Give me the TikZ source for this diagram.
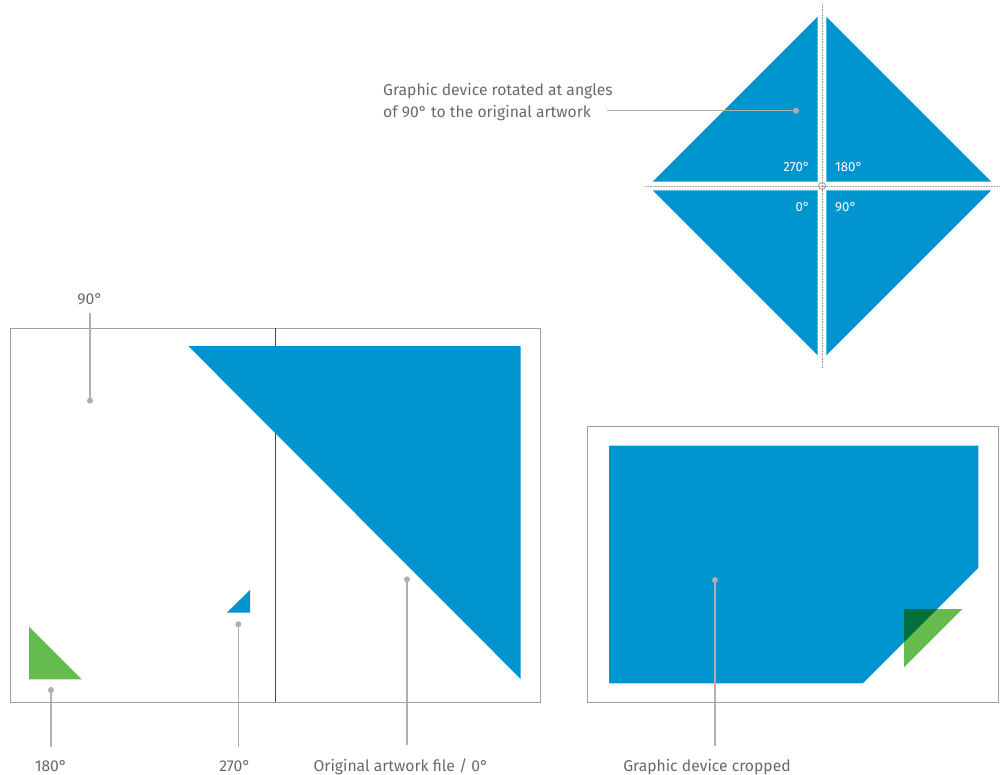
\documentclass[tikz,border=0pt]{standalone}
\usepackage{fontspec}
\setmainfont{Fira Sans}
\usepackage{xcolor}
\usetikzlibrary{positioning, calc}
\definecolor{devblue}{RGB}{0,149,207}
\definecolor{devgreen}{RGB}{102,187,80}
\definecolor{devdkgreen}{RGB}{0,112,60}
\definecolor{leadgray}{RGB}{175,175,175}
\definecolor{txtgray}{RGB}{105,105,108}

\begin{document}
\begin{tikzpicture}[x=1pt, y=-1pt,
  leader/.style={draw=leadgray, line width=1.3pt},
  dotmark/.style={fill=leadgray},
  lbl/.style={font=\fontsize{15.7}{22}\selectfont, text=txtgray, inner sep=0pt},
  anglbl/.style={font=\fontsize{13.2}{15}\selectfont, text=white, inner sep=0pt},
  frame/.style={draw=gray!75, line width=0.9pt},
  guide/.style={draw=gray!80, densely dotted, line width=0.6pt}]
  \useasboundingbox (0,0) rectangle (1003,775);
  % Rotated device: four triangles round one centre
  \coordinate (c) at (822,186);
  \begin{scope}[shift={(c)}]
    \foreach \r in {0,90,180,270} {
      \fill[devblue, rotate=\r] (-4.3,4.3) -- (-4.3,169.3) -- (-169.3,4.3) -- cycle;
    }
  \end{scope}
  \draw[guide] (822,4) -- (822,368);
  \draw[guide] (645,186) -- (1000,186);
  \draw[gray!90, line width=0.7pt] (c) circle (3.5pt);
  \node[anglbl, anchor=base east] (a270) at (810,172) {270°};
  \node[anglbl, anchor=base west] (a180) at (835,172) {180°};
  \node[anglbl, anchor=base east] (a0)   at (810,212) {0°};
  \node[anglbl, anchor=base west] (a90)  at (835,212) {90°};
  % Caption of the rotated device
  \node[lbl, anchor=base west] (lrot1) at (383,96) {Graphic device rotated at angles};
  \node[lbl, anchor=base west] (lrot2) at (383,118) {of 90° to the original artwork};
  \coordinate (drot) at (796,110.7);
  \draw[leader, shorten <=16pt] (lrot2.east |- drot) -- (drot);
  \fill[dotmark] (drot) circle (3pt);
  % Original artwork file (spread)
  \draw[frame] (10.7,328.3) rectangle (540,702);
  \draw[gray!55!black, line width=0.9pt] (275.3,328.3) -- (275.3,702);
  \fill[devblue] (188.3,346) -- (520.7,346) -- (520.7,679) -- cycle;
  \fill[devblue] (226.7,612.7) -- (250,612.7) -- (250,590) -- cycle;
  \fill[devgreen] (29,626.7) -- (29,679.3) -- (81.7,679.3) -- cycle;
  % Leaders of the spread
  \node[lbl, anchor=base] (l90) at (90,305) {90°};
  \coordinate (d90) at (90,400.7);
  \draw[leader, shorten <=7pt] (l90.south) -- (d90);
  \node[lbl, anchor=base] (l180) at (51,771) {180°};
  \coordinate (d180) at (51,690);
  \node[lbl, anchor=base] (l270) at (235,771) {270°};
  \coordinate (d270) at (238.3,624.3);
  \node[lbl, anchor=base] (lorig) at (401,771) {Original artwork file / 0°};
  \coordinate (dorig) at (407,579.3);
  % Cropped device
  \draw[frame] (587.7,426) rectangle (998.3,702.7);
  \fill[devblue] (609,445.7) -- (978.3,445.7) -- (978.3,567.7) -- (862.7,683.3) -- (609,683.3) -- cycle;
  \fill[devgreen] (904,609) -- (962.3,609) -- (904,667.3) -- cycle;
  \begin{scope}
    \clip (609,445.7) -- (978.3,445.7) -- (978.3,567.7) -- (862.7,683.3) -- (609,683.3) -- cycle;
    \fill[devdkgreen] (904,609) -- (962.3,609) -- (904,667.3) -- cycle;
  \end{scope}
  \node[lbl, anchor=base] (lcrop) at (707,771) {Graphic device cropped};
  \coordinate (dcrop) at (715,580);
  % Vertical leaders down to the captions
  \foreach \d/\l in {d180/l180, d270/l270, dorig/lorig, dcrop/lcrop} {
    \draw[leader, shorten >=13pt] (\d) -- (\d |- \l.north);
  }
  \foreach \d in {d90, d180, d270, dorig, dcrop} {
    \fill[dotmark] (\d) circle (3pt);
  }
\end{tikzpicture}
\end{document}
